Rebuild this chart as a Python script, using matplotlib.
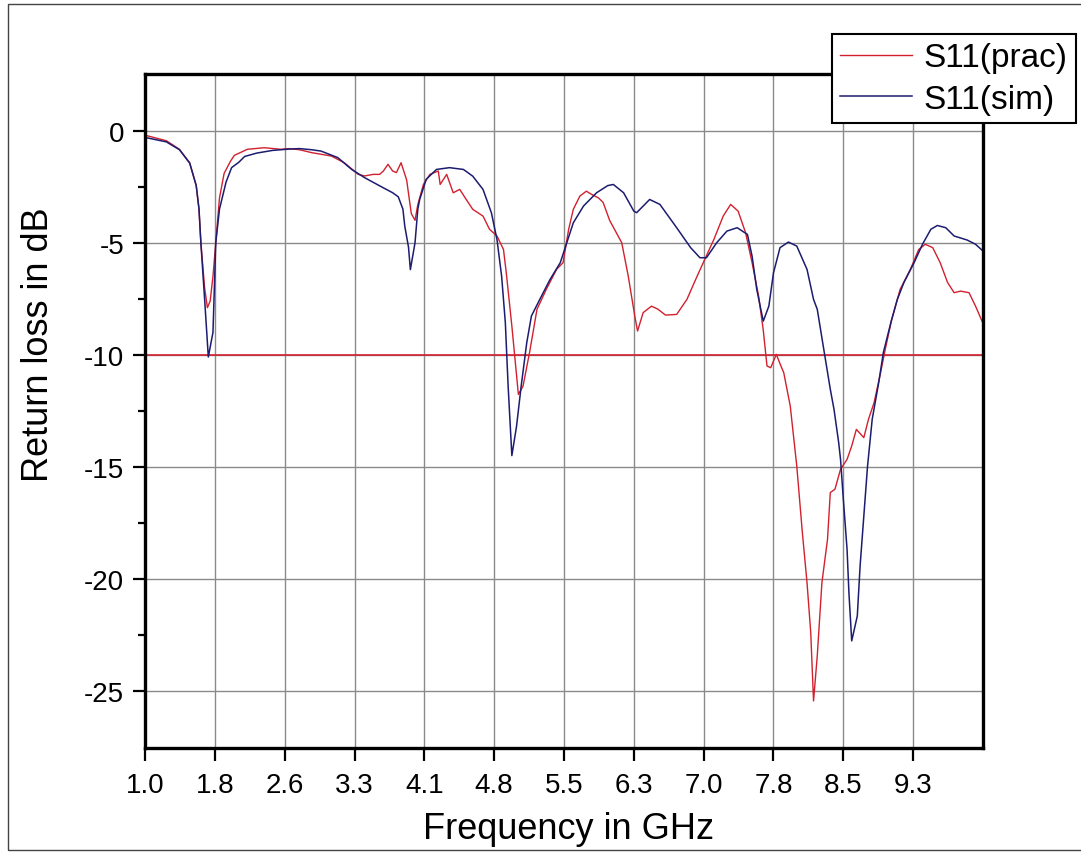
#!/usr/bin/env python3
import matplotlib
matplotlib.use("Agg")
import matplotlib.pyplot as plt
from matplotlib.patches import Rectangle
from matplotlib.ticker import FixedLocator

plt.rcParams['font.family'] = ['Liberation Sans', 'DejaVu Sans']
plt.rcParams['axes.unicode_minus'] = False

# tick labels as printed on the original chart
x_tick_labels = ['1.0', '1.8', '2.6', '3.3', '4.1', '4.8', '5.5', '6.3', '7.0', '7.8', '8.5', '9.3']
y_major = [0, -5, -10, -15, -20, -25]
y_minor = [-2.5, -7.5, -12.5, -17.5, -22.5]

# simulated S11 (dB)
sim_freq = [1.00, 1.23, 1.37, 1.48, 1.55, 1.58, 1.60, 1.64, 1.68, 1.73,
            1.76, 1.80, 1.87, 1.93, 2.01, 2.07, 2.20, 2.37, 2.55, 2.66,
            2.79, 2.89, 3.07, 3.22, 3.36, 3.56, 3.66, 3.72, 3.77, 3.79,
            3.83, 3.85, 3.90, 3.93, 3.95, 4.02, 4.13, 4.27, 4.42, 4.52,
            4.63, 4.72, 4.78, 4.83, 4.87, 4.90, 4.94, 4.99, 5.04, 5.10,
            5.15, 5.24, 5.35, 5.46, 5.53, 5.60, 5.71, 5.85, 5.97, 6.03,
            6.14, 6.25, 6.28, 6.42, 6.53, 6.71, 6.86, 6.96, 7.03, 7.14,
            7.25, 7.36, 7.47, 7.52, 7.57, 7.64, 7.70, 7.75, 7.82, 7.91,
            8.00, 8.11, 8.18, 8.22, 8.29, 8.36, 8.40, 8.45, 8.47, 8.50,
            8.54, 8.56, 8.59, 8.65, 8.68, 8.72, 8.76, 8.81, 8.88, 8.93,
            9.01, 9.08, 9.15, 9.26, 9.35, 9.44, 9.51, 9.60, 9.69, 9.83,
            9.92, 10.0]
sim_db = [-0.30, -0.50, -0.85, -1.45, -2.45, -3.5, -5.0, -7.5, -10.1, -9.0,
          -5.0, -3.5, -2.3, -1.65, -1.4, -1.15, -1.0, -0.88, -0.82, -0.80,
          -0.85, -0.91, -1.2, -1.73, -2.1, -2.55, -2.77, -2.95, -3.5, -4.26,
          -5.2, -6.2, -5.0, -3.5, -3.07, -2.17, -1.73, -1.65, -1.73, -2.03,
          -2.62, -3.66, -4.85, -6.49, -8.57, -11.4, -14.5, -13.2, -11.4, -9.46,
          -8.27, -7.53, -6.64, -5.89, -5.0, -4.11, -3.36, -2.77, -2.45, -2.40,
          -2.77, -3.59, -3.66, -3.07, -3.29, -4.33, -5.22, -5.67, -5.67, -5.0,
          -4.48, -4.33, -4.63, -5.6, -7.08, -8.5, -7.83, -6.34, -5.22, -4.97,
          -5.15, -6.19, -7.53, -7.97, -9.76, -11.54, -12.44, -13.92, -14.67, -16.45,
          -18.68, -20.62, -22.77, -21.66, -19.43, -17.2, -14.97, -12.88, -11.24, -9.9,
          -8.57, -7.53, -6.78, -5.89, -5.07, -4.4, -4.23, -4.33, -4.7, -4.88,
          -5.07, -5.37]

# measured S11 (dB)
prac_freq = [1.00, 1.23, 1.37, 1.48, 1.55, 1.58, 1.60, 1.64, 1.67, 1.70,
             1.73, 1.76, 1.80, 1.85, 1.92, 1.96, 2.10, 2.28, 2.46, 2.55,
             2.66, 2.79, 3.00, 3.14, 3.29, 3.36, 3.45, 3.52, 3.56, 3.61,
             3.66, 3.70, 3.75, 3.81, 3.86, 3.90, 3.93, 3.99, 4.06, 4.15,
             4.17, 4.24, 4.31, 4.38, 4.45, 4.52, 4.63, 4.70, 4.78, 4.85,
             4.88, 4.94, 5.01, 5.06, 5.13, 5.21, 5.31, 5.42, 5.49, 5.55,
             5.60, 5.67, 5.74, 5.80, 5.87, 5.92, 5.99, 6.12, 6.19, 6.26,
             6.29, 6.35, 6.44, 6.51, 6.59, 6.71, 6.82, 6.93, 7.02, 7.11,
             7.21, 7.29, 7.37, 7.45, 7.52, 7.59, 7.64, 7.68, 7.72, 7.78,
             7.82, 7.86, 7.93, 8.00, 8.06, 8.11, 8.15, 8.18, 8.22, 8.27,
             8.33, 8.36, 8.41, 8.47, 8.54, 8.59, 8.64, 8.72, 8.77, 8.83,
             8.90, 8.95, 9.02, 9.11, 9.22, 9.31, 9.38, 9.46, 9.54, 9.62,
             9.69, 9.76, 9.85, 9.92, 10.0]
prac_db = [-0.20, -0.45, -0.83, -1.43, -2.45, -3.5, -5.0, -7.0, -7.9, -7.6,
           -6.5, -5.0, -3.0, -1.9, -1.35, -1.1, -0.83, -0.76, -0.83, -0.80,
           -0.85, -0.98, -1.13, -1.43, -1.95, -2.02, -1.95, -1.95, -1.8, -1.5,
           -1.8, -1.87, -1.43, -2.2, -3.7, -4.0, -3.3, -2.4, -1.95, -1.8,
           -2.4, -1.95, -2.77, -2.62, -3.07, -3.51, -3.81, -4.4, -4.7, -5.3,
           -6.34, -8.72, -11.77, -11.4, -9.9, -7.97, -7.08, -6.19, -5.89, -4.4,
           -3.51, -2.92, -2.7, -2.85, -3.0, -3.2, -4.0, -5.0, -6.49, -8.27,
           -8.94, -8.12, -7.83, -7.97, -8.23, -8.2, -7.53, -6.49, -5.67, -4.85,
           -3.81, -3.29, -3.59, -4.55, -5.89, -7.38, -8.9, -10.5, -10.58, -9.98,
           -10.4, -10.8, -12.29, -14.97, -17.94, -20.17, -22.4, -25.45, -23.44, -20.17,
           -18.24, -16.15, -16.0, -15.11, -14.67, -14.07, -13.33, -13.7, -12.88, -12.14,
           -10.8, -9.76, -8.42, -7.08, -6.19, -5.3, -5.07, -5.22, -5.89, -6.78,
           -7.23, -7.16, -7.23, -7.83, -8.6]

threshold = -10

red = '#d2202e'
navy = '#1c1c70'

fig = plt.figure(figsize=(10.81, 8.54), dpi=100)
ax = fig.add_axes([145 / 1081, 1 - 749 / 854, 838 / 1081, 674 / 854])

# grid behind the curves
x_ticks = [1.0 + 0.75 * i for i in range(len(x_tick_labels))]
ax.set_axisbelow(True)
ax.grid(True, which='major', color='#8a8a8a', linewidth=1.0)

ax.axhline(threshold, color=red, linewidth=1.2)
ax.plot(prac_freq, prac_db, color=red, linewidth=1.0, label='S11(prac)')
ax.plot(sim_freq, sim_db, color=navy, linewidth=1.1, label='S11(sim)')

ax.set_xlim(1.0, 10.0)
ax.set_ylim(-27.55, 2.53)
ax.set_xticks(x_ticks)
ax.set_xticklabels(x_tick_labels)
ax.set_yticks(y_major)
ax.yaxis.set_minor_locator(FixedLocator(y_minor))

ax.tick_params(axis='both', which='major', direction='out', length=9, width=1.6,
               labelsize=20, colors='black')
ax.tick_params(axis='x', pad=8)
ax.tick_params(axis='y', pad=6)
ax.tick_params(axis='y', which='minor', direction='out', length=5, width=1.6)
for s in ax.spines.values():
    s.set_linewidth(2.4)

ax.set_xlabel('Frequency in GHz', fontsize=26)
ax.xaxis.set_label_coords(0.505, -0.12)
ax.xaxis.label.set_verticalalignment('center')
ax.set_ylabel('Return loss in dB', fontsize=26)
ax.yaxis.set_label_coords(-0.127, 0.60)
ax.yaxis.label.set_verticalalignment('center')

leg = fig.legend(loc='upper left', bbox_to_anchor=(832 / 1081, 1 - 35 / 854),
                 fontsize=24, frameon=True, fancybox=False, framealpha=1,
                 edgecolor='black', handlelength=2.15, handletextpad=0.35,
                 borderpad=0.25, labelspacing=0.32, borderaxespad=0)
leg.get_frame().set_linewidth(1.5)

# thin border round the whole picture
fig.patches.append(Rectangle((8 / 1081, 3 / 854), 1.05, 1 - 8 / 854,
                             transform=fig.transFigure, fill=False,
                             edgecolor='#444444', linewidth=1.0))

fig.savefig('out.png', dpi=100)
